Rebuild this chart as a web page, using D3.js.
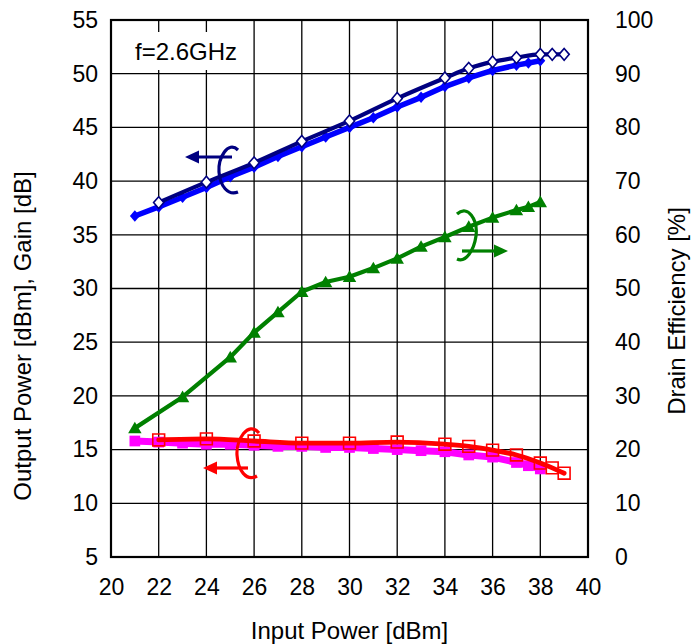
<!DOCTYPE html>
<html><head><meta charset="utf-8">
<script src="https://cdn.jsdelivr.net/npm/d3@7"></script>
<style>
html,body{margin:0;padding:0;background:#fff;}
svg{display:block;font-family:"Liberation Sans",Arial,sans-serif;}
</style></head>
<body>
<svg id="chart" width="692" height="644"></svg>
<script>
// ---- data ----
const xTicks = [20,22,24,26,28,30,32,34,36,38,40];
const yLeftTicks = [5,10,15,20,25,30,35,40,45,50,55];
const yRightTicks = [0,10,20,30,40,50,60,70,80,90,100];

// Output power, measurement A (open diamonds)
const poutA_x = [22,24,26,28,30,32,34,35,36,37,38,38.5,39];
const poutA_y = [38.0,39.9,41.7,43.7,45.6,47.7,49.6,50.5,51.1,51.5,51.8,51.8,51.8];
// Output power, measurement B (filled diamonds)
const poutB_x = [21,22,23,24,25,26,27,28,29,30,31,32,33,34,35,36,37,37.5,38];
const poutB_y = [36.75,37.6,38.5,39.4,40.4,41.3,42.3,43.2,44.1,45.0,45.9,46.9,47.8,48.8,49.6,50.3,50.8,51.0,51.2];
// Gain A (open squares)
const gainA_x = [22,24,26,28,30,32,34,35,36,37,38,38.5,39];
const gainA_y = [15.9,16.0,15.8,15.6,15.6,15.7,15.5,15.3,14.95,14.5,13.75,13.3,12.8];
// Gain B (filled squares)
const gainB_x = [21,22,23,24,25,26,27,28,29,30,31,32,33,34,35,36,37,37.5,38];
const gainB_y = [15.8,15.7,15.6,15.5,15.5,15.4,15.3,15.3,15.2,15.2,15.1,15.0,14.9,14.8,14.5,14.3,13.8,13.5,13.2];
// Drain efficiency (triangles), right axis
const eff_x = [21,23,25,26,27,28,29,30,31,32,33,34,35,36,37,37.5,38];
const eff_y = [24.0,29.8,37.2,41.8,45.6,49.4,51.2,52.2,53.8,55.6,57.8,59.6,61.5,63.2,64.6,65.2,66.1];

// ---- layout ----
const svg = d3.select("#chart");
const L = 111, R = 588, T = 20, B = 557;
const x = d3.scaleLinear().domain([20,40]).range([L,R]);
const yL = d3.scaleLinear().domain([5,55]).range([B,T]);
const yR = d3.scaleLinear().domain([0,100]).range([B,T]);
const FS = 23;

// grid
const g = svg.append("g");
g.selectAll(".vg").data(xTicks.slice(1,-1)).enter().append("line")
  .attr("x1",d=>x(d)).attr("x2",d=>x(d)).attr("y1",T).attr("y2",B)
  .attr("stroke","#000").attr("stroke-width",1.3);
g.selectAll(".hg").data(yLeftTicks.slice(1,-1)).enter().append("line")
  .attr("x1",L).attr("x2",R).attr("y1",d=>yL(d)).attr("y2",d=>yL(d))
  .attr("stroke","#000").attr("stroke-width",1.3);

// frequency label box
svg.append("rect").attr("x",L+1).attr("y",32).attr("width",136).attr("height",38).attr("fill","#fff");
svg.append("text").attr("x",135).attr("y",60).attr("font-size",24).attr("fill","#000").text("f=2.6GHz");

// border
svg.append("rect").attr("x",L).attr("y",T).attr("width",R-L).attr("height",B-T)
  .attr("fill","none").attr("stroke","#000").attr("stroke-width",2.2);

// axes tick labels
const xAxis = d3.axisBottom(x).tickValues(xTicks).tickSize(0).tickPadding(0);
const gx = svg.append("g").attr("transform",`translate(0,${B})`).call(xAxis);
gx.select(".domain").remove();
gx.selectAll("text").attr("font-size",FS).attr("font-family","Liberation Sans, Arial, sans-serif")
  .attr("fill","#000").attr("dy",null).attr("y",38);

const yAxisL = d3.axisLeft(yL).tickValues(yLeftTicks).tickSize(0).tickPadding(13);
const gyl = svg.append("g").attr("transform",`translate(${L},0)`).call(yAxisL);
gyl.select(".domain").remove();
gyl.selectAll("text").attr("font-size",FS).attr("font-family","Liberation Sans, Arial, sans-serif").attr("fill","#000");

const yAxisR = d3.axisRight(yR).tickValues(yRightTicks).tickSize(0).tickPadding(27);
const gyr = svg.append("g").attr("transform",`translate(${R},0)`).call(yAxisR);
gyr.select(".domain").remove();
gyr.selectAll("text").attr("font-size",FS).attr("font-family","Liberation Sans, Arial, sans-serif").attr("fill","#000");

// axis titles
svg.append("text").attr("x",(L+R)/2).attr("y",639).attr("text-anchor","middle")
  .attr("font-size",24).text("Input Power [dBm]");
svg.append("text").attr("transform","translate(31,336) rotate(-90)").attr("text-anchor","middle")
  .attr("font-size",24).text("Output Power [dBm], Gain [dB]");
svg.append("text").attr("transform","translate(685,311) rotate(-90)").attr("text-anchor","middle")
  .attr("font-size",24).text("Drain Efficiency [%]");

// helpers
function pts(xs, ys){ return xs.map((v,i)=>[v,ys[i]]); }
function drawLine(data, ys, color, w, curve){
  const line = d3.line().x(d=>x(d[0])).y(d=>ys(d[1])).curve(curve||d3.curveLinear);
  svg.append("path").datum(data).attr("d",line).attr("fill","none")
    .attr("stroke",color).attr("stroke-width",w).attr("stroke-linejoin","round").attr("stroke-linecap","round");
}
function drawMarkers(data, ys, type, size, fill, stroke, sw){
  svg.append("g").selectAll("path").data(data).enter().append("path")
    .attr("transform",d=>`translate(${x(d[0])},${ys(d[1])})`)
    .attr("d",d3.symbol().type(type).size(size))
    .attr("fill",fill).attr("stroke",stroke).attr("stroke-width",sw);
}
const diamond = {draw(ctx,size){const r=Math.sqrt(size)/2;ctx.moveTo(0,-r*1.1);ctx.lineTo(r*0.95,0);ctx.lineTo(0,r*1.1);ctx.lineTo(-r*0.95,0);ctx.closePath();}};
const triangle = {draw(ctx,size){const r=Math.sqrt(size)/2;ctx.moveTo(0,-r*1.05);ctx.lineTo(r*1.1,r*0.85);ctx.lineTo(-r*1.1,r*0.85);ctx.closePath();}};

// efficiency (green)
const effD = pts(eff_x, eff_y);
drawLine(effD, yR, "#008000", 4.2);
drawMarkers(effD, yR, triangle, 150, "#008000", "none", 0);

// gain B (magenta)
const gainBD = pts(gainB_x, gainB_y);
drawLine(gainBD, yL, "#FF00FF", 7);
drawMarkers(gainBD, yL, d3.symbolSquare, 115, "#FF00FF", "none", 0);

// gain A (red)
const gainAD = pts(gainA_x, gainA_y);
drawLine(gainAD, yL, "#FF0000", 4.8, d3.curveMonotoneX);
drawMarkers(gainAD, yL, d3.symbolSquare, 140, "none", "#FF0000", 1.6);

// pout B (blue)
const poutBD = pts(poutB_x, poutB_y);
drawLine(poutBD, yL, "#0000FF", 5.5);
drawMarkers(poutBD, yL, diamond, 110, "#0000FF", "none", 0);

// pout A (navy)
const poutAD = pts(poutA_x, poutA_y);
drawLine(poutAD, yL, "#000080", 4.2, d3.curveMonotoneX);
drawMarkers(poutAD, yL, diamond, 115, "#fff", "#000080", 1.6);

// annotation curls and arrows
function curl(d, color){
  svg.append("path").attr("d",d).attr("fill","none").attr("stroke",color).attr("stroke-width",3.2);
}
function arrow(x1,x2,y,color){
  const dir = Math.sign(x2-x1);
  const hx = x2 - dir*14;
  svg.append("line").attr("x1",x1).attr("x2",hx).attr("y1",y).attr("y2",y)
    .attr("stroke",color).attr("stroke-width",3.2);
  svg.append("path").attr("d",`M${x2},${y} L${hx},${y-6.5} L${hx},${y+6.5} Z`).attr("fill",color);
}
// navy (left)
curl("M238,150 C228,140 218,158 219,172 C220,186 228,196 238,192","#000080");
arrow(232,185,157,"#000080");
// green (right)
curl("M457,214 C468,204 478,220 476,236 C474,250 466,263 457,259","#008000");
arrow(462,508,251,"#008000");
// red (left)
curl("M259,433 C248,420 236,440 237,455 C238,470 246,482 257,476","#FF0000");
arrow(248,203,468,"#FF0000");
</script>
</body></html>
